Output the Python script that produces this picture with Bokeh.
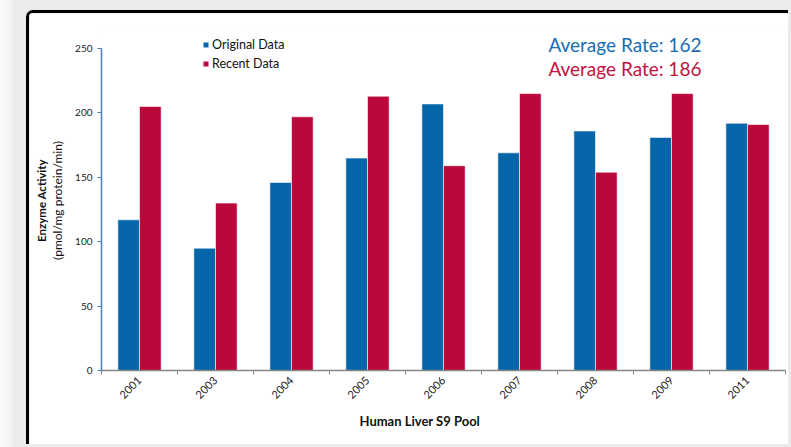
import numpy as np
from bokeh.plotting import figure
from bokeh.models import (LinearAxis, FixedTicker, Legend, LegendItem, Label, Range1d, Title)
from bokeh.layouts import column
from bokeh.embed import file_html
from bokeh.resources import INLINE

years = ["2001", "2003", "2004", "2005", "2006", "2007", "2008", "2009", "2011"]
original = [117, 95, 146, 165, 207, 169, 186, 181, 192]
recent = [205, 130, 197, 213, 159, 215, 154, 215, 191]
y_ticks = [0, 50, 100, 150, 200, 250]
avg_original = 162
avg_recent = 186

BLUE = "#0466a9"
RED = "#b90839"
FONT = "Lato"

idx = np.arange(len(years))
centers = idx + 0.5
bar_w = 0.285

p = figure(width=762, height=434, x_range=Range1d(0, len(years)), y_range=Range1d(0, 264),
           output_backend="svg", toolbar_location=None,
           min_border_left=72, min_border_top=17, min_border_bottom=77, min_border_right=6,
           border_fill_color="white", background_fill_color="white", outline_line_color=None)
p.grid.visible = False

r1 = p.vbar(x=centers - bar_w / 2, top=original, width=bar_w, fill_color=BLUE,
            line_color="white", line_alpha=0.6, line_width=1)
r2 = p.vbar(x=centers + bar_w / 2, top=recent, width=bar_w, fill_color=RED,
            line_color="white", line_alpha=0.6, line_width=1)

ya = p.yaxis[0]
ya.ticker = FixedTicker(ticks=y_ticks)
ya.bounds = (0, 250)
ya.axis_line_color = "#4a7ebb"
ya.axis_line_width = 1.5
ya.major_tick_line_color = "#4a7ebb"
ya.major_tick_out = 4
ya.major_tick_in = 0
ya.minor_tick_line_color = None
ya.major_label_text_font = FONT
ya.major_label_text_font_size = "10px"
ya.major_label_text_color = "#222222"
ya.major_label_standoff = 5
ya.axis_label = "(pmol/mg protein/min)"
ya.axis_label_text_font = FONT
ya.axis_label_text_font_style = "normal"
ya.axis_label_text_font_size = "12px"
ya.axis_label_text_color = "#111111"
ya.axis_label_standoff = 7

ax2 = LinearAxis(ticker=FixedTicker(ticks=[]), axis_label="Enzyme Activity",
                 axis_line_color=None, major_tick_line_color=None, minor_tick_line_color=None,
                 major_tick_out=0, major_tick_in=0, minor_tick_out=0, major_label_standoff=0,
                 axis_label_standoff=0, axis_label_text_font=FONT,
                 axis_label_text_font_style="bold", axis_label_text_font_size="11.5px",
                 axis_label_text_color="#111111")
p.add_layout(ax2, "left")

xa = p.xaxis[0]
xa.ticker = FixedTicker(ticks=list(centers), minor_ticks=list(range(len(years) + 1)))
xa.major_label_overrides = {float(c): y for c, y in zip(centers, years)}
xa.major_tick_line_color = None
xa.major_tick_out = 4
xa.major_tick_in = 0
xa.minor_tick_line_color = "#868686"
xa.minor_tick_out = 4
xa.minor_tick_in = 0
xa.axis_line_color = "#868686"
xa.axis_line_width = 1.5
xa.major_label_orientation = np.pi / 4
xa.major_label_text_font = FONT
xa.major_label_text_font_size = "11px"
xa.major_label_text_color = "#222222"
xa.major_label_standoff = 4

p.add_layout(Title(text="Human Liver S9 Pool", align="left", offset=258,
                   text_font=FONT, text_font_style="bold", text_font_size="13px",
                   text_color="#111111", standoff=10), "below")

legend = Legend(items=[LegendItem(label="Original Data", renderers=[r1]),
                       LegendItem(label="Recent Data", renderers=[r2])],
                location=(101, 297), glyph_width=7, glyph_height=7, label_height=19,
                spacing=0, padding=0, margin=0, label_standoff=3,
                label_text_font=FONT, label_text_font_size="12.5px", label_text_color="#111111",
                background_fill_alpha=0, border_line_color=None)
p.add_layout(legend, "center")

p.add_layout(Label(x=5.88, y=253, text=f"Average Rate: {avg_original}", text_font=FONT,
                   text_font_size="19px", text_color="#1a6db3", text_baseline="middle"))
p.add_layout(Label(x=5.88, y=234.5, text=f"Average Rate: {avg_recent}", text_font=FONT,
                   text_font_size="19px", text_color="#c4123f", text_baseline="middle"))

p.styles = {"border-left": "3px solid black", "border-top": "3px solid black",
            "border-top-left-radius": "7px"}

layout = column(p, width=791, height=447,
                styles={"background": "linear-gradient(to right, #fbfbfb 0px, #f6f6f6 9px, #ebebeb 15px)",
                        "padding-left": "26px", "padding-top": "10px"})

open("out.html", "w").write(file_html(layout, INLINE))
